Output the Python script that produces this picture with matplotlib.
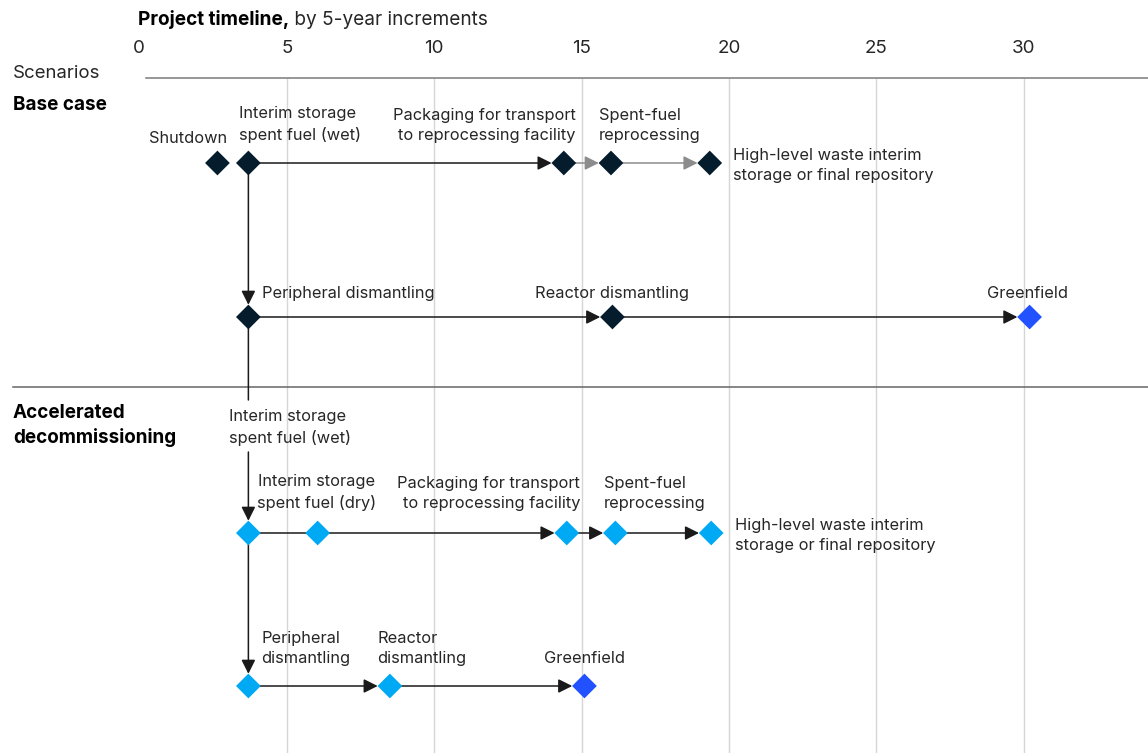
import matplotlib.pyplot as plt

plt.rcParams['font.family'] = ['Inter', 'DejaVu Sans']

# timeline steps, in years from start of project
ticks = [0, 5, 10, 15, 20, 25, 30]

base_fuel_steps = ['Shutdown', 'Interim storage\nspent fuel (wet)',
                   'Packaging for transport\nto reprocessing facility',
                   'Spent-fuel\nreprocessing',
                   'High-level waste interim\nstorage or final repository']
base_fuel_years = [2.65, 3.7, 14.4, 16.0, 19.35]

base_site_steps = ['Peripheral dismantling', 'Reactor dismantling', 'Greenfield']
base_site_years = [3.7, 16.05, 30.2]

acc_fuel_steps = ['Interim storage\nspent fuel (wet)', 'Interim storage\nspent fuel (dry)',
                  'Packaging for transport\nto reprocessing facility',
                  'Spent-fuel\nreprocessing',
                  'High-level waste interim\nstorage or final repository']
acc_fuel_years = [3.7, 6.05, 14.5, 16.15, 19.4]

acc_site_steps = ['Peripheral\ndismantling', 'Reactor\ndismantling', 'Greenfield']
acc_site_years = [3.7, 8.5, 15.1]

NAVY = '#051c2c'
CYAN = '#00a9f4'
BLUE = '#2251ff'
DARK = '#1a1a1a'
GRAY = '#8c8c8c'
TEXT = '#262626'

W, H = 1148, 753
PT = 0.72  # points per pixel at 100 dpi

fig = plt.figure(figsize=(W / 100, H / 100), dpi=100)
top_px = 78
ax = fig.add_axes([0, 0, 1, 1 - top_px / H])

# x in years, y in pixels from the top
px_per_year = 29.48
x0_px = 139.3
ax.set_xlim(-x0_px / px_per_year, (W - x0_px) / px_per_year)
ax.set_ylim(H, top_px)

row_y = {'base_fuel': 163, 'base_site': 317, 'acc_fuel': 533, 'acc_site': 686}
sep_y = 387

for s in ['left', 'right', 'bottom']:
    ax.spines[s].set_visible(False)
ax.spines['top'].set_bounds((146 - x0_px) / px_per_year, (W - x0_px) / px_per_year)
ax.spines['top'].set_color('#7a7a7a')
ax.spines['top'].set_linewidth(1.1)
ax.xaxis.tick_top()
ax.set_xticks(ticks)
ax.set_yticks([])
ax.tick_params(axis='x', length=0, pad=15, labelsize=13.5, labelcolor=TEXT)

ax.vlines(ticks[1:], H, top_px, color='#d6d6d6', lw=1, zorder=0)
ax.axhline(sep_y, xmin=13 / W, xmax=1, color='#666666', lw=1.1, zorder=1)

HALF = 12.2 * PT  # half-width of a diamond, in points


def link(xa, ya, xb, yb, color=DARK, head=True):
    ax.annotate('', xy=(xb, yb), xytext=(xa, ya),
                arrowprops=dict(arrowstyle='-|>' if head else '-', color=color,
                                lw=1.1, shrinkA=0, shrinkB=HALF if head else 0,
                                mutation_scale=21),
                zorder=2)


def diamonds(years, y, colors):
    ax.scatter(years, [y] * len(years), marker='D', s=12.6 ** 2, c=colors,
               linewidths=0, zorder=3)


def labels(steps, years, y, offsets):
    # dy is the baseline of the last line, in pixels below the marker
    for text, yr, (dx, dy, ha) in zip(steps, years, offsets):
        ax.annotate(text, xy=(yr, y), xytext=(dx * PT, -dy * PT),
                    textcoords='offset points', ha=ha, va='baseline',
                    fontsize=11.8, color=TEXT, linespacing=1.45)


# Base case: fuel chain
yb = row_y['base_fuel']
link(base_fuel_years[1], yb, base_fuel_years[2], yb)
link(base_fuel_years[2], yb, base_fuel_years[3], yb, color=GRAY)
link(base_fuel_years[3], yb, base_fuel_years[4], yb, color=GRAY)
diamonds(base_fuel_years, yb, [NAVY] * 5)
labels(base_fuel_steps, base_fuel_years, yb,
       [(10, -20.3, 'right'), (-9.4, -23, 'left'), (12, -23, 'right'),
        (-12.4, -23, 'left'), (23.7, 17, 'left')])

# Base case: site dismantling
ys = row_y['base_site']
link(base_fuel_years[1], yb, base_site_years[0], ys)
for a, b in zip(base_site_years[:-1], base_site_years[1:]):
    link(a, ys, b, ys)
diamonds(base_site_years, ys, [NAVY, NAVY, BLUE])
labels(base_site_steps, base_site_years, ys,
       [(13.3, -18.7, 'left'), (0, -18.7, 'center'), (-2, -18.7, 'center')])

# Accelerated decommissioning: fuel chain
ya = row_y['acc_fuel']
gap_top, gap_bottom = 400, 452
link(base_site_years[0], ys, acc_fuel_years[0], gap_top, head=False)
link(acc_fuel_years[0], gap_bottom, acc_fuel_years[0], ya)
link(acc_fuel_years[0], ya, acc_fuel_years[1], ya, head=False)
for a, b in zip(acc_fuel_years[1:-1], acc_fuel_years[2:]):
    link(a, ya, b, ya)
diamonds(acc_fuel_years, ya, [CYAN] * 5)
labels(acc_fuel_steps, acc_fuel_years, ya,
       [(-19.4, -89.7, 'left'), (-1, -24.7, 'center'), (13.4, -24.7, 'right'),
        (-11.4, -24.7, 'left'), (23.7, 17, 'left')])

# Accelerated decommissioning: site dismantling
yc = row_y['acc_site']
link(acc_fuel_years[0], ya, acc_site_years[0], yc)
for a, b in zip(acc_site_years[:-1], acc_site_years[1:]):
    link(a, yc, b, yc)
diamonds(acc_site_years, yc, [CYAN, CYAN, BLUE])
labels(acc_site_steps, acc_site_years, yc,
       [(13, -22.7, 'left'), (-12.6, -22.7, 'left'), (0, -22.7, 'center')])

# headings
title = fig.text(138 / W, 1 - 25 / H, 'Project timeline,', fontsize=13.7,
                 weight='bold', color='black', va='baseline')
ax.annotate(' by 5-year increments', xy=(1, 0), xycoords=title, va='bottom',
            ha='left', fontsize=13.7, color=TEXT)
fig.text(13 / W, 1 - 78 / H, 'Scenarios', fontsize=13.4, color=TEXT, va='baseline')
fig.text(13 / W, 1 - 110 / H, 'Base case', fontsize=13.6, weight='bold',
         color='black', va='baseline')
fig.text(13 / W, 1 - 443.3 / H, 'Accelerated\ndecommissioning', fontsize=13.6,
         weight='bold', color='black', va='baseline', linespacing=1.45)

fig.savefig('out.png', dpi=100)
